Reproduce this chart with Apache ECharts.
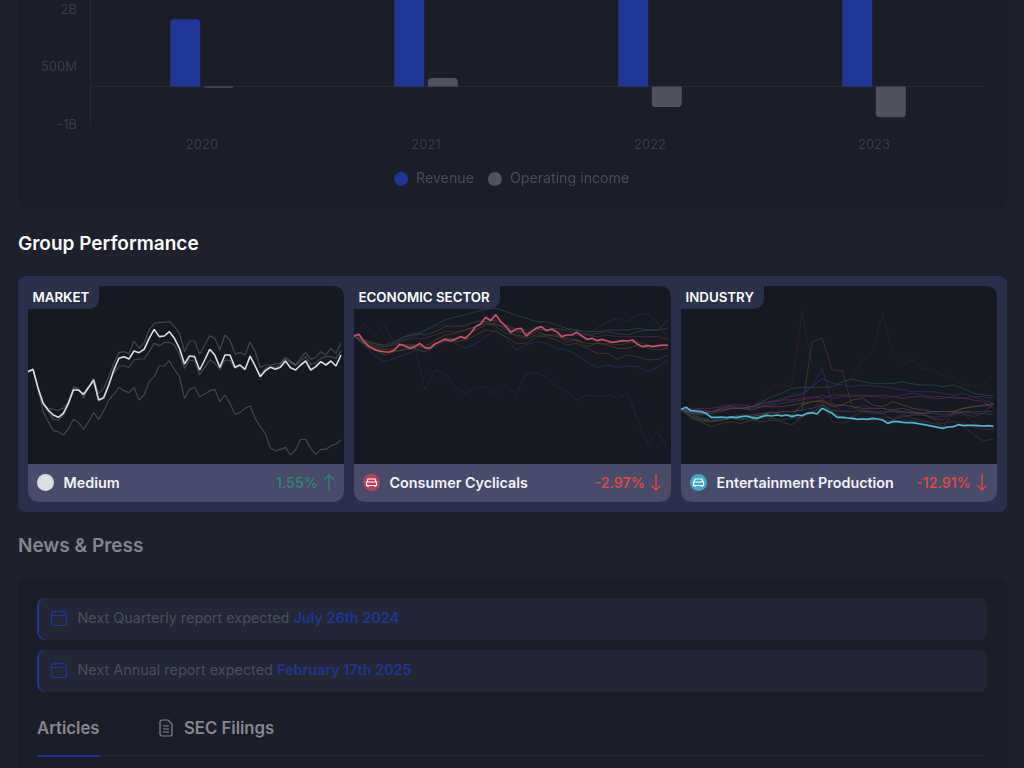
<!DOCTYPE html>
<html>
<head>
<meta charset="utf-8">
<title>Group Performance</title>
<script src="https://cdn.jsdelivr.net/npm/echarts@6/dist/echarts.min.js"></script>
<style>
  html, body { margin: 0; padding: 0; width: 1024px; height: 768px; overflow: hidden; background: #1e202c; font-family: Inter, "Noto Sans", sans-serif; }
  .abs { position: absolute; }
  #barCard { left: 18px; top: -20px; width: 989px; height: 229px; background: #1b1d28; border-radius: 10px; }
  #barChart { left: 0; top: -60px; width: 1024px; height: 270px; }
  h2 { position: absolute; margin: 0; font-size: 19px; line-height: 24px; font-weight: 600; }
  #panel { left: 18px; top: 276px; width: 989px; height: 236px; background: #2b304a; border-radius: 8px; }
  .card { position: absolute; top: 286px; height: 216px; background: #171922; border-radius: 10px; overflow: hidden; }
  .lines { position: absolute; left: 0; top: 0; width: 100%; height: 178px; }
  .badge { position: absolute; left: 0; top: 0; height: 23px; line-height: 22px; padding: 0 10px 0 4.5px; background: #2b304a; color: #fff; font-size: 13.3px; font-weight: 600; border-bottom-right-radius: 10px; }
  .foot { position: absolute; left: 0; top: 178px; width: 100%; height: 38px; background: #484b69; }
  .dot { position: absolute; left: 9px; top: 10px; width: 17px; height: 17px; border-radius: 50%; }
  .dot svg { display: block; }
  .name { position: absolute; left: 35.5px; top: 0; line-height: 37px; color: #f4f4f8; font-size: 14.35px; font-weight: 600; }
  .pct { position: absolute; right: 26px; top: 0; line-height: 37px; font-size: 14.35px; font-weight: 500; }
  .arrow { position: absolute; right: 9px; top: 10px; }
  #newsCard { left: 18px; top: 578px; width: 989px; height: 210px; background: #1b1d28; border-radius: 10px; }
  .alert { position: absolute; left: 37px; width: 950px; height: 42px; background: #232635; border-radius: 8px; box-shadow: inset 2px 0 0 #1f3794; line-height: 40px; font-size: 14.4px; color: #4c4f60; box-sizing: border-box; padding-left: 40.5px; }
  .alert b { color: #1f3794; font-weight: 600; }
  .alert svg { position: absolute; left: 13px; top: 11px; }
  .tab { position: absolute; top: 717px; line-height: 22px; font-size: 16.7px; font-weight: 600; color: #87888f; }
</style>
</head>
<body>
<div class="abs" id="barCard"></div>
<div class="abs" id="barChart"></div>

<h2 style="left:18px;top:232px;color:#fff">Group Performance</h2>
<div class="abs" id="panel"></div>

<div class="card" style="left:28px;width:316px">
  <div class="lines" id="marketChart"></div>
  <div class="badge">MARKET</div>
  <div class="foot">
    <div class="dot" style="background:#dcdde2"></div>
    <div class="name">Medium</div>
    <div class="pct" style="color:#2b8a6d">1.55%</div>
    <svg class="arrow" width="12" height="17" viewBox="0 0 12 17" fill="none" stroke="#2b8a6d" stroke-width="1.4"><path d="M6 17V1M1.5 5.5L6 1l4.5 4.5"/></svg>
  </div>
</div>

<div class="card" style="left:354px;width:317px">
  <div class="lines" id="sectorChart"></div>
  <div class="badge">ECONOMIC SECTOR</div>
  <div class="foot">
    <div class="dot" style="background:#b8405a"><svg width="17" height="17" viewBox="0 0 17 17" fill="none" stroke="#fff" stroke-width="1.2"><path d="M4 8l1-3h7l1 3M3.5 8h10v3.5h-10zM5 11.5V13M12 11.5V13"/></svg></div>
    <div class="name">Consumer Cyclicals</div>
    <div class="pct" style="color:#e8483f">-2.97%</div>
    <svg class="arrow" width="12" height="17" viewBox="0 0 12 17" fill="none" stroke="#e8483f" stroke-width="1.4"><path d="M6 0v16M1.5 11.5L6 16l4.5-4.5"/></svg>
  </div>
</div>

<div class="card" style="left:681px;width:316px">
  <div class="lines" id="industryChart"></div>
  <div class="badge">INDUSTRY</div>
  <div class="foot">
    <div class="dot" style="background:#3fa9c9"><svg width="17" height="17" viewBox="0 0 17 17" fill="none" stroke="#fff" stroke-width="1.2"><path d="M4 8l1-3h7l1 3M3.5 8h10v3.5h-10zM5 11.5V13M12 11.5V13"/></svg></div>
    <div class="name">Entertainment Production</div>
    <div class="pct" style="color:#e8483f">-12.91%</div>
    <svg class="arrow" width="12" height="17" viewBox="0 0 12 17" fill="none" stroke="#e8483f" stroke-width="1.4"><path d="M6 0v16M1.5 11.5L6 16l4.5-4.5"/></svg>
  </div>
</div>

<h2 style="left:18px;top:534px;color:#85868c">News &amp; Press</h2>
<div class="abs" id="newsCard"></div>
<div class="alert" style="top:598px">
  <svg width="18" height="18" viewBox="0 0 18 18" fill="none" stroke="#1f3794" stroke-width="1.2"><rect x="1.5" y="2.5" width="15" height="14" rx="3"/><path d="M1.5 6.5h15M5.5 1v3M12.5 1v3M6 11h.8M8.7 11h.8M11.4 11h.8"/></svg>
  Next Quarterly report expected <b>July 26th 2024</b>
</div>
<div class="alert" style="top:650px">
  <svg width="18" height="18" viewBox="0 0 18 18" fill="none" stroke="#1f3794" stroke-width="1.2"><rect x="1.5" y="2.5" width="15" height="14" rx="3"/><path d="M1.5 6.5h15M5.5 1v3M12.5 1v3M6 11h.8M8.7 11h.8M11.4 11h.8"/></svg>
  Next Annual report expected <b>February 17th 2025</b>
</div>
<div class="tab" style="left:37px">Articles</div>
<svg class="abs" style="left:159px;top:719px" width="14" height="18" viewBox="0 0 14 18" fill="none" stroke="#87888f" stroke-width="1.2"><path d="M3 1h6l4 4v10a2 2 0 0 1-2 2H3a2 2 0 0 1-2-2V3a2 2 0 0 1 2-2zM4 7h6M4 10h6M4 13h6"/></svg>
<div class="tab" style="left:184px">SEC Filings</div>
<div class="abs" style="left:100px;top:755px;width:887px;height:1px;background:#232635"></div>
<div class="abs" style="left:37px;top:755px;width:63px;height:2px;background:#1f3794"></div>

<script>
// bar chart
const years = ['2020', '2021', '2022', '2023']
const revenue = [1750000000, 3100000000, 3200000000, 3300000000]
const operatingIncome = [-30000000, 220000000, -530000000, -800000000]

// line charts, index readings. the first array of each group is the highlighted one
const marketMain = [277,284,227,182,162,147,140,152,182,222,222,209,230,252,192,199,237,282,317,322,315,339,334,344,377,404,382,384,397,377,347,300,324,322,282,312,344,327,290,327,327,290,297,284,324,294,262,280,290,284,290,309,289,282,297,309,282,292,307,297,309,294,327]
const marketHigh = [277,284,227,182,167,164,162,167,187,232,227,197,230,257,212,227,262,302,334,337,330,369,347,364,402,422,425,425,428,412,392,337,369,369,330,357,385,377,342,387,372,330,334,327,367,337,290,297,297,300,302,320,309,297,317,335,314,320,337,327,347,332,362]
const marketSmall = [277,284,227,177,157,134,132,147,177,227,222,207,227,247,187,202,242,272,294,294,290,312,315,315,337,362,355,364,365,357,327,287,312,309,267,290,312,302,282,312,310,287,294,282,320,294,267,287,292,290,297,315,304,297,309,322,299,304,317,322,322,317,340]
const marketLow = [277,284,227,157,127,100,97,87,105,134,125,104,127,154,134,160,192,209,230,220,214,230,192,207,247,262,294,294,310,284,262,197,224,230,202,210,220,224,187,207,182,149,154,167,174,137,112,92,49,39,44,50,27,42,74,74,47,29,44,44,55,60,72]

const sectorMain = [384,389,367,352,344,339,336,336,342,359,355,347,352,362,349,347,360,367,374,370,374,382,377,392,412,420,440,430,448,427,412,395,405,407,384,397,407,412,400,405,397,382,387,387,395,384,374,377,370,374,369,365,367,370,369,372,359,352,355,352,355,357,356]
// the dim lines below were read at every second step
const sectorDim = [
  [384,422,382,417,362,357,352,222,282,272,232,212,227,232,207,237,212,270,274,262,232,217,192,207,202,207,197,212,132,62,97,42],
  [384,374,362,357,367,382,387,402,417,432,442,447,457,464,467,457,447,437,427,427,417,407,402,387,392,397,392,387,397,402,402,434],
  [384,367,357,347,362,382,392,387,397,412,412,417,427,427,417,412,397,392,407,402,407,402,402,397,397,402,402,402,407,402,402,407],
  [384,362,352,342,347,357,357,352,372,387,392,402,412,422,412,392,387,382,397,387,382,377,372,352,362,357,347,347,357,347,342,347],
  [384,357,342,327,337,342,347,337,362,372,367,372,387,402,397,382,362,362,382,382,372,357,362,347,332,332,314,327,322,312,314,327],
  [384,357,327,307,317,327,342,337,352,367,362,347,362,382,402,377,342,357,367,362,347,342,327,307,290,297,290,294,292,277,290,312],
  [384,367,362,352,362,377,382,397,412,417,417,412,427,437,427,417,407,402,412,412,402,397,392,392,407,427,437,427,447,452,422,374],
  [384,372,362,352,357,372,377,377,387,397,397,402,412,427,432,417,402,392,402,402,397,387,387,387,382,387,382,382,382,382,382,374],
  [384,362,347,337,337,347,357,347,362,377,377,382,402,417,422,402,382,377,387,387,387,367,372,362,362,362,357,362,367,357,352,357]
]
const sectorDimColors = ['#2a3050', '#2f5a58', '#3f5a40', '#6b5030', '#6a4a2c', '#2c3f66', '#2e3458', '#6a3540', '#5a4a3a']

const industryMain = [164,170,160,159,157,152,140,140,141,139,141,139,142,144,139,137,142,146,144,147,144,147,142,147,145,152,154,150,167,160,152,140,140,138,137,134,135,134,137,135,132,122,127,127,125,124,124,121,119,116,113,110,107,111,112,118,115,116,116,115,114,115,113]
const industryDim = [
  [164,177,160,157,167,177,172,167,197,232,237,232,457,302,282,222,242,262,312,337,452,332,302,312,287,282,267,257,237,232,237,262],
  [164,147,137,127,132,142,147,142,147,152,157,157,162,367,377,282,280,172,157,157,152,162,157,152,152,137,132,157,152,142,152,182],
  [164,152,152,157,167,172,167,172,182,187,197,202,207,232,287,182,157,167,177,167,167,157,152,157,147,142,142,147,152,127,107,102],
  [164,152,147,152,157,167,167,172,187,202,212,227,230,230,230,232,247,254,247,242,242,242,247,240,237,237,232,237,227,212,207,204],
  [164,157,152,157,162,167,167,167,172,182,192,207,212,232,257,242,237,232,237,234,232,227,222,217,217,217,212,207,212,202,192,182],
  [164,162,167,167,172,177,177,172,182,187,192,192,197,202,197,207,207,207,207,202,207,202,197,202,202,197,197,202,197,192,187,167],
  [164,142,132,127,132,137,132,142,147,157,147,147,177,187,192,177,177,192,197,177,172,187,177,167,162,157,157,157,167,172,177,182],
  [164,142,127,112,122,127,122,132,127,132,127,117,142,152,177,157,137,142,157,152,152,132,142,147,147,137,112,152,157,152,152,147],
  [164,137,127,127,132,137,137,132,137,137,132,137,142,157,167,152,142,137,137,137,132,127,132,132,127,122,112,112,117,87,70,74],
  [164,157,152,142,137,142,147,147,152,157,152,147,137,167,187,127,122,132,137,132,142,137,147,137,132,122,122,127,122,112,102,107],
  [164,152,137,132,137,142,142,147,152,152,157,157,162,167,177,162,157,157,162,157,157,157,157,152,152,152,147,152,157,157,157,157],
  [164,167,162,157,167,172,167,172,177,177,182,187,192,197,207,197,202,202,202,207,197,202,207,212,207,202,202,197,197,202,202,197],
  [164,157,152,157,162,167,167,162,172,172,172,177,182,187,187,172,177,172,167,167,167,162,167,157,152,157,157,157,167,172,174,177]
]
const industryDimColors = ['#3c2038', '#5a4030', '#4a2a6a', '#2f5a58', '#2c3a7a', '#7a3050', '#6a5c30', '#4f4a30', '#2a4a50', '#552a48', '#34506a', '#52306a', '#7a4a38']

const fontFamily = 'Inter, "Noto Sans", sans-serif'

function formatTick(v) {
  if (v == 0) return '0'
  if (Math.abs(v) >= 1000000000) return v / 1000000000 + 'B'
  return v / 1000000 + 'M'
}

function barRadius(v) {
  return v < 0 ? [0, 0, 4, 4] : [4, 4, 0, 0]
}

const barChart = echarts.init(document.getElementById('barChart'))
barChart.setOption({
  animation: false,
  textStyle: { fontFamily: fontFamily },
  legend: {
    left: 389,
    top: 227,
    icon: 'circle',
    itemWidth: 14,
    itemHeight: 14,
    itemGap: 14,
    textStyle: { color: '#4a4c5c', fontSize: 14.2, padding: [0, 0, 0, 3], fontFamily: fontFamily }
  },
  grid: { left: 90, top: 12, width: 896, height: 173 },
  xAxis: [
    {
      type: 'category',
      data: years,
      position: 'bottom',
      axisLine: { show: false, onZero: false },
      axisTick: { show: false },
      axisLabel: { color: '#3a3d50', fontSize: 13, margin: 14, fontFamily: fontFamily }
    },
    {
      type: 'category',
      data: years,
      axisLine: { show: true, onZero: true, lineStyle: { color: '#262938', width: 1 } },
      axisTick: { show: false },
      axisLabel: { show: false }
    }
  ],
  yAxis: {
    type: 'value',
    min: -1000000000,
    max: 3500000000,
    interval: 1500000000,
    axisLine: { show: true, lineStyle: { color: '#262938' } },
    axisTick: { show: false },
    splitLine: { show: false },
    axisLabel: { color: '#3a3d50', fontSize: 13, margin: 13, padding: [4, 0, 0, 0], formatter: formatTick, fontFamily: fontFamily }
  },
  series: [
    {
      name: 'Revenue',
      type: 'bar',
      barWidth: 30,
      barGap: '12%',
      itemStyle: { color: '#1f3794' },
      data: revenue.map(v => ({ value: v, itemStyle: { borderRadius: barRadius(v) } }))
    },
    {
      name: 'Operating income',
      type: 'bar',
      barWidth: 30,
      itemStyle: { color: '#50525f' },
      data: operatingIncome.map(v => ({ value: v, itemStyle: { borderRadius: barRadius(v) } }))
    }
  ]
})

function lineSeries(values, step, color, width, opacity) {
  return {
    type: 'line',
    showSymbol: false,
    silent: true,
    lineStyle: { color: color, width: width, opacity: opacity },
    data: values.map((v, i) => [i * step, v])
  }
}

function initLines(id, right, series) {
  const chart = echarts.init(document.getElementById(id))
  chart.setOption({
    animation: false,
    grid: { left: 0, right: right, top: 0, bottom: 0 },
    xAxis: { type: 'value', min: 0, max: 62, show: false },
    yAxis: { type: 'value', min: 0, max: 534, show: false },
    series: series
  })
  return chart
}

initLines('marketChart', 3, [
  lineSeries(marketHigh, 1, '#ffffff', 1.2, 0.2),
  lineSeries(marketSmall, 1, '#ffffff', 1.2, 0.2),
  lineSeries(marketLow, 1, '#ffffff', 1.2, 0.2),
  lineSeries(marketMain, 1, '#dedee2', 1.6, 1)
])

initLines('sectorChart', 3, sectorDim
  .map((values, i) => lineSeries(values, 2, sectorDimColors[i], 1, 0.55))
  .concat([lineSeries(sectorMain, 1, '#cc5068', 1.7, 1)]))

initLines('industryChart', 3.5, industryDim
  .map((values, i) => lineSeries(values, 2, industryDimColors[i], 1, 0.6))
  .concat([lineSeries(industryMain, 1, '#4ab9d8', 1.7, 1)]))
</script>
</body>
</html>
